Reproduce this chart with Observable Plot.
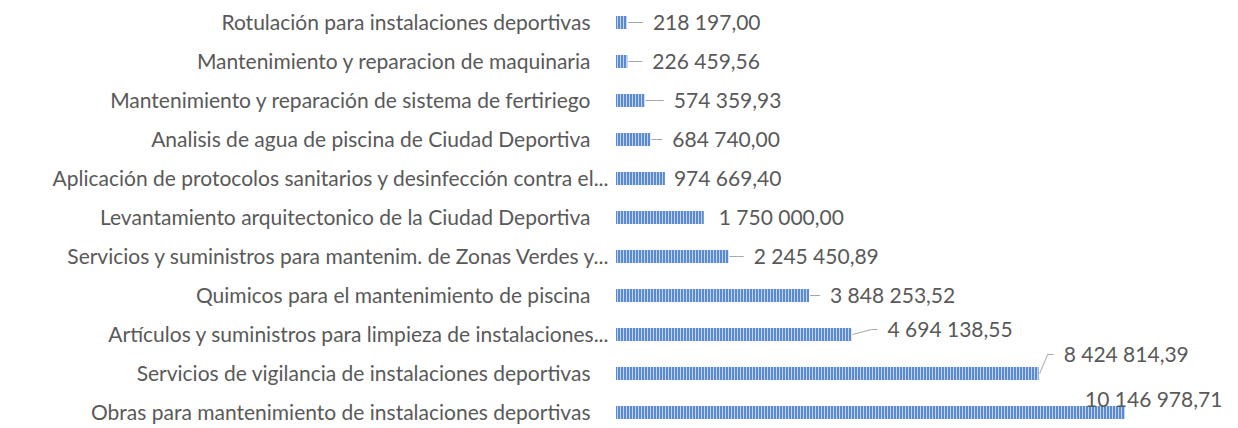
<!DOCTYPE html>
<html>
<head>
<meta charset="utf-8">
<script src="https://cdn.jsdelivr.net/npm/d3@7"></script>
<script src="https://cdn.jsdelivr.net/npm/@observablehq/plot@0.6"></script>
<style>
  html, body { margin: 0; padding: 0; background: #fff; }
</style>
</head>
<body>
<div id="chart"></div>
<script>
// Categories (top to bottom)
const categories = [
  "Rotulación para instalaciones deportivas",
  "Mantenimiento y reparacion de maquinaria",
  "Mantenimiento y reparación de sistema de fertiriego",
  "Analisis de agua de piscina de Ciudad Deportiva",
  "Aplicación de protocolos sanitarios y desinfección contra el...",
  "Levantamiento arquitectonico de la Ciudad Deportiva",
  "Servicios y suministros para mantenim. de Zonas Verdes y...",
  "Quimicos para el mantenimiento de piscina",
  "Artículos y suministros para limpieza de instalaciones...",
  "Servicios de vigilancia de instalaciones deportivas",
  "Obras para mantenimiento de instalaciones deportivas"
];
// Values
const values = [
  218197.00, 226459.56, 574359.93, 684740.00, 974669.40,
  1750000.00, 2245450.89, 3848253.52, 4694138.55, 8424814.39, 10146978.71
];
// Data-label placement (pixel offsets from bar end), as in the original
const labelDx = [26, 25, 29, 22, 9, 15, 25, 21, 36, 25, -40];
const labelDy = [0, 0, 0, 0, 0, 0, 0, 0, -5, -19, -13];
const hasLeader = [true, true, true, true, false, false, true, true, true, true, false];

const data = categories.map((c, i) => ({
  category: c, value: values[i], dx: labelDx[i], dy: labelDy[i], leader: hasLeader[i]
}));

const locale = d3.formatLocale({decimal: ",", thousands: " ", grouping: [3], currency: ["", ""]});
const fmt = locale.format(",.2f");

const FONT = "Lato";
const FS = 21;
const TEXT = "#595959";

const leaderMark = (index, scales, channels, dimensions, context) => {
  const g = d3.create("svg:g");
  for (const d of data) {
    if (!d.leader) continue;
    const x0 = scales.x(d.value);
    const y0 = scales.y(d.category) + scales.y.bandwidth() / 2;
    const pts = [[x0 + 1, y0], [x0 + Math.max(d.dx - 16, 4), y0 + d.dy], [x0 + d.dx - 10, y0 + d.dy]];
    g.append("path")
      .attr("d", d3.line()(pts))
      .attr("fill", "none")
      .attr("stroke", "#a6a6a6")
      .attr("stroke-width", 1);
  }
  return g.node();
};

const valueLabelMark = (index, scales, channels, dimensions, context) => {
  const g = d3.create("svg:g");
  for (const d of data) {
    const x0 = scales.x(d.value);
    const y0 = scales.y(d.category) + scales.y.bandwidth() / 2;
    g.append("text")
      .attr("x", x0 + d.dx)
      .attr("y", y0 + d.dy)
      .attr("dy", "0.35em")
      .attr("text-anchor", "start")
      .attr("fill", TEXT)
      .attr("font-family", FONT)
      .attr("font-size", FS)
      .text(fmt(d.value));
  }
  return g.node();
};

const plot = Plot.plot({
  width: 1238,
  height: 428,
  marginLeft: 616,
  marginRight: 20,
  marginTop: 0,
  marginBottom: 0,
  style: {fontFamily: FONT, fontSize: FS + "px", color: TEXT, background: "#fff"},
  x: {domain: [0, 12000000], axis: null},
  y: {type: "band", domain: categories, range: [2.5, 432.5], padding: 0, axis: null},
  marks: [
    Plot.barX(data, {x: "value", y: "category", fill: "url(#stripes)", insetTop: 13, insetBottom: 13}),
    Plot.ruleX([0], {stroke: "#d9d9d9", strokeWidth: 1.5, y1: 3, y2: 428}),
    Plot.text(data.filter(d => !d.category.endsWith("...")), {
      x: 0, y: "category", text: "category", textAnchor: "end", dx: -26, fill: TEXT
    }),
    Plot.text(data.filter(d => d.category.endsWith("...")), {
      x: 0, y: "category", text: "category", textAnchor: "end", dx: -8, fill: TEXT
    }),
    leaderMark,
    valueLabelMark
  ]
});

// Striped pattern fill (Excel-like)
const svg = d3.select(plot);
const defs = svg.insert("defs", ":first-child");
const pat = defs.append("pattern")
  .attr("id", "stripes")
  .attr("patternUnits", "userSpaceOnUse")
  .attr("width", 3)
  .attr("height", 20);
pat.append("rect").attr("width", 3).attr("height", 20).attr("fill", "#5a8ad0");
pat.append("rect").attr("x", 2).attr("width", 1).attr("height", 20).attr("fill", "#c3d4ee");

document.getElementById("chart").appendChild(plot);
</script>
</body>
</html>
